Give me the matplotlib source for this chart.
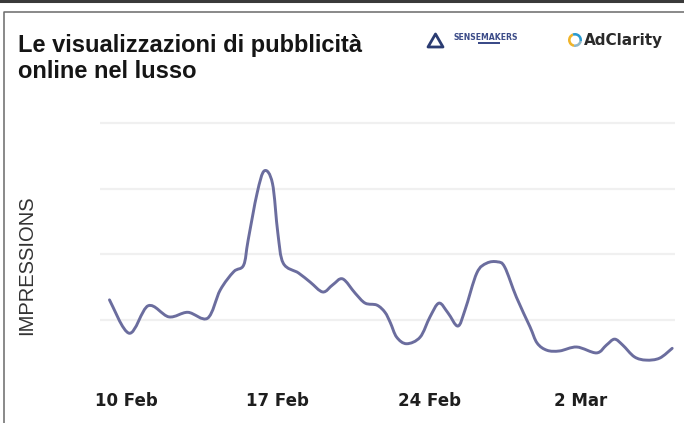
import matplotlib
matplotlib.use("Agg")
import matplotlib.pyplot as plt
import matplotlib.dates as mdates
import numpy as np
import pandas as pd
from matplotlib.patches import Polygon, Wedge, Rectangle, PathPatch
from matplotlib.path import Path
from matplotlib.lines import Line2D

# Online luxury ad impressions (relative scale), traced through the period
timestamps = [
    "2024-02-09 05:00", "2024-02-10 03:00", "2024-02-11 00:00", "2024-02-11 23:00",
    "2024-02-12 20:00", "2024-02-13 18:00", "2024-02-14 08:00", "2024-02-14 23:00",
    "2024-02-15 10:00", "2024-02-15 15:00", "2024-02-16 01:00", "2024-02-16 09:00",
    "2024-02-16 18:00", "2024-02-17 00:00", "2024-02-17 06:00", "2024-02-17 23:00",
    "2024-02-18 12:00", "2024-02-19 02:00", "2024-02-19 13:00", "2024-02-20 00:00",
    "2024-02-20 14:00", "2024-02-21 01:00", "2024-02-21 14:00", "2024-02-21 23:00",
    "2024-02-22 05:00", "2024-02-22 12:00", "2024-02-22 23:00", "2024-02-23 14:00",
    "2024-02-24 01:00", "2024-02-24 11:00", "2024-02-24 21:00", "2024-02-25 08:00",
    "2024-02-25 16:00", "2024-02-26 05:00", "2024-02-26 16:00", "2024-02-27 04:00",
    "2024-02-27 12:00", "2024-02-28 01:00", "2024-02-28 16:00", "2024-02-29 00:00",
    "2024-02-29 11:00", "2024-03-01 01:00", "2024-03-01 20:00", "2024-03-02 18:00",
    "2024-03-03 05:00", "2024-03-03 14:00", "2024-03-03 23:00", "2024-03-04 12:00",
    "2024-03-05 01:00", "2024-03-05 16:00", "2024-03-06 06:00",
]
impressions = [
    1.30, 0.79, 1.21, 1.04, 1.11, 1.02, 1.45, 1.73,
    1.83, 2.21, 2.93, 3.27, 3.08, 2.32, 1.86, 1.71,
    1.57, 1.42, 1.53, 1.62, 1.40, 1.25, 1.22, 1.11,
    0.95, 0.73, 0.63, 0.73, 1.04, 1.25, 1.10, 0.90,
    1.15, 1.71, 1.86, 1.88, 1.80, 1.34, 0.89, 0.64,
    0.53, 0.52, 0.58, 0.49, 0.61, 0.70, 0.61, 0.43,
    0.38, 0.41, 0.56,
]
tick_dates = ["2024-02-10", "2024-02-17", "2024-02-24", "2024-03-02"]
tick_labels = ["10 Feb", "17 Feb", "24 Feb", "2 Mar"]
grid_levels = [1, 2, 3, 4]


def smooth_path(xs, ys):
    """Catmull-Rom curve through the points, as cubic Bezier segments."""
    pts = np.column_stack([xs, ys])
    ext = np.vstack([pts[0], pts, pts[-1]])
    verts = [pts[0]]
    codes = [Path.MOVETO]
    for i in range(1, len(ext) - 2):
        p0, p1, p2, p3 = ext[i - 1], ext[i], ext[i + 1], ext[i + 2]
        c1 = p1 + (p2 - p0) / 6.0
        c2 = p2 - (p3 - p1) / 6.0
        verts += [c1, c2, p2]
        codes += [Path.CURVE4] * 3
    return Path(np.array(verts), codes)


W, H = 684, 423
fig = plt.figure(figsize=(W / 100, H / 100), dpi=100)
fig.patch.set_facecolor("white")

# Main chart area
ax = fig.add_axes([100 / W, 38 / H, 575 / W, 265 / H])
x = mdates.date2num(pd.to_datetime(timestamps))
ax.add_patch(PathPatch(smooth_path(x, impressions), fill=False,
                       edgecolor="#6b6d9e", lw=2.1, joinstyle="round",
                       capstyle="round", zorder=3))

origin = pd.Timestamp("2024-02-10")
ax.set_xlim(mdates.date2num(origin - pd.Timedelta(days=1.23)),
            mdates.date2num(origin + pd.Timedelta(days=25.38)))
ax.set_ylim(0, 4.046)

for lvl in grid_levels:
    ax.axhline(lvl, color="#f0f0f0", lw=1.6, zorder=1)

ax.set_xticks(mdates.date2num(pd.to_datetime(tick_dates)))
ax.set_xticklabels(tick_labels, fontsize=12, fontweight="bold",
                   family=["DejaVu Sans"], color="#1e1e1e")
ax.set_yticks([])
ax.tick_params(axis="x", length=0, pad=5)
for s in ax.spines.values():
    s.set_visible(False)
ax.set_facecolor("none")

# Overlay in pixel coordinates for frame, titles and logos
ov = fig.add_axes([0, 0, 1, 1], zorder=-1)
ov.set_xlim(0, W)
ov.set_ylim(H, 0)
ov.axis("off")

ov.add_line(Line2D([0, W], [1.2, 1.2], color="#3a3a3a", lw=2.2))
ov.add_line(Line2D([4, 4, W], [H, 12, 12], color="#6a6a6a", lw=1.1))

title_font = ["Liberation Sans", "DejaVu Sans"]
fig.text(18 / W, 1 - 52 / H, "Le visualizzazioni di pubblicità", fontsize=17,
         fontweight="bold", family=title_font, color="#151515", va="baseline")
fig.text(18 / W, 1 - 78 / H, "online nel lusso", fontsize=17,
         fontweight="bold", family=title_font, color="#151515", va="baseline")

fig.text(27 / W, 1 - 265 / H, "IMPRESSIONS", rotation=90, ha="center",
         va="center", fontsize=14.5, family=["Liberation Sans", "DejaVu Sans"],
         color="#333333")

# SENSEMAKERS mark
ov.add_patch(Polygon([[428, 47], [443, 47], [435.5, 34]], closed=True,
                     fill=False, edgecolor="#2b3c72", lw=2.0, joinstyle="round"))
ov.text(453, 38, "SENSEMAKERS", fontsize=5.6, fontweight="bold",
        color="#3b4b88", va="center", ha="left", family=["DejaVu Sans"])
ov.add_patch(Rectangle((478, 42.5), 22, 1.6, color="#3b4b88", lw=0))

# AdClarity mark
cx, cy, r = 575, 40, 7
ov.add_patch(Wedge((cx, cy), r, 100, 250, width=2.6, color="#f0b429", lw=0))
ov.add_patch(Wedge((cx, cy), r, 250, 370, width=2.6, color="#2a9ad0", lw=0))
ov.add_patch(Wedge((cx, cy), r, 10, 100, width=2.6, color="#8fb7c9", lw=0))
ov.text(583.5, 40, "AdClarity", fontsize=11, fontweight="bold",
        color="#2a2a2a", va="center", ha="left", family=["DejaVu Sans"])

fig.savefig("out.png", dpi=100, facecolor="white")
